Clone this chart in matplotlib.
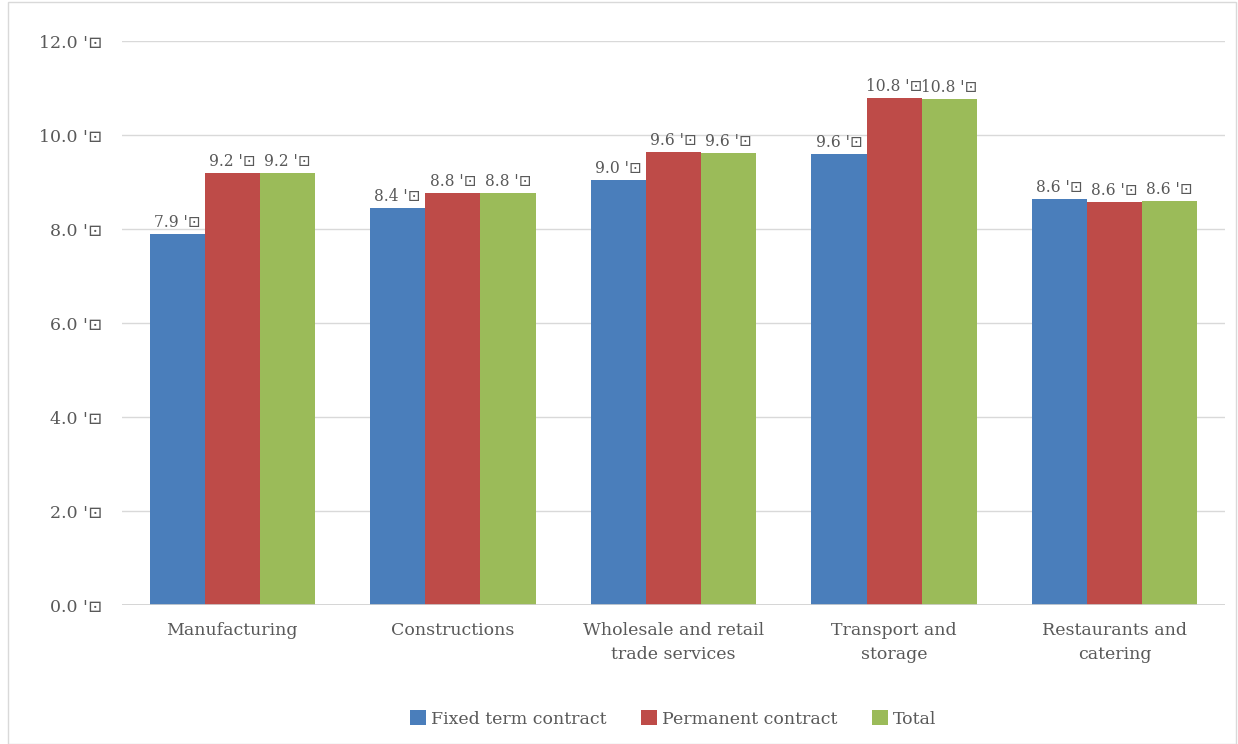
# clustered bar chart: fixed term vs permanent contract by sector

import numpy as np
import matplotlib.pyplot as plt
from matplotlib.patches import Rectangle

categories = ['Manufacturing', 'Constructions', 'Wholesale and retail\ntrade services',
              'Transport and\nstorage', 'Restaurants and\ncatering']
fixed_term = [7.89, 8.45, 9.04, 9.60, 8.64]
permanent = [9.19, 8.77, 9.64, 10.79, 8.57]
total = [9.19, 8.77, 9.62, 10.77, 8.60]
series_names = ['Fixed term contract', 'Permanent contract', 'Total']
yticks = [0, 2, 4, 6, 8, 10, 12]
suffix = " '\u22a1"

colors = ['#4a7ebb', '#be4b48', '#9bbb59']
text_color = '#595959'

plt.rcParams['font.family'] = ['DejaVu Serif', 'DejaVu Sans']

fig = plt.figure(figsize=(12.38, 7.44), dpi=100)
ax = fig.add_axes([122 / 1238, 1 - 605 / 744, 1103 / 1238, 564 / 744])

x = np.arange(len(categories))
width = 0.25
for i, (vals, name) in enumerate(zip([fixed_term, permanent, total], series_names)):
    pos = x + (i - 1) * width
    bars = ax.bar(pos, vals, width, color=colors[i], label=name, zorder=3)
    for b, v in zip(bars, vals):
        ax.text(b.get_x() + b.get_width() / 2, v + 0.06, f'{v:.1f}{suffix}',
                ha='center', va='bottom', fontsize=11.2, color=text_color)

ax.set_ylim(0, 12)
ax.set_xlim(-0.5, len(categories) - 0.5)
ax.set_yticks(yticks)
ax.set_yticklabels([f'{t:.1f}{suffix}' for t in yticks])
ax.set_xticks(x)
ax.set_xticklabels(categories, linespacing=1.55)
ax.tick_params(axis='both', length=0, labelsize=12.5, labelcolor=text_color)
ax.tick_params(axis='y', pad=14)
ax.tick_params(axis='x', pad=12)
ax.grid(axis='y', color='#d9d9d9', linewidth=1, zorder=0)
ax.axhline(0, color='#d0d0d0', linewidth=1.2, zorder=4)
for s in ax.spines.values():
    s.set_visible(False)

ax.legend(loc='lower center', bbox_to_anchor=(0.5, -0.245), ncol=3, frameon=False,
          fontsize=12.5, labelcolor=text_color, handlelength=0.9, handleheight=0.9,
          handletextpad=0.3, columnspacing=2.0)

fig.patches.append(Rectangle((8 / 1238, 0), 1 - 10 / 1238, 1 - 2 / 744, transform=fig.transFigure,
                             fill=False, edgecolor='#d9d9d9', linewidth=1))

fig.savefig('out.png', dpi=100)
